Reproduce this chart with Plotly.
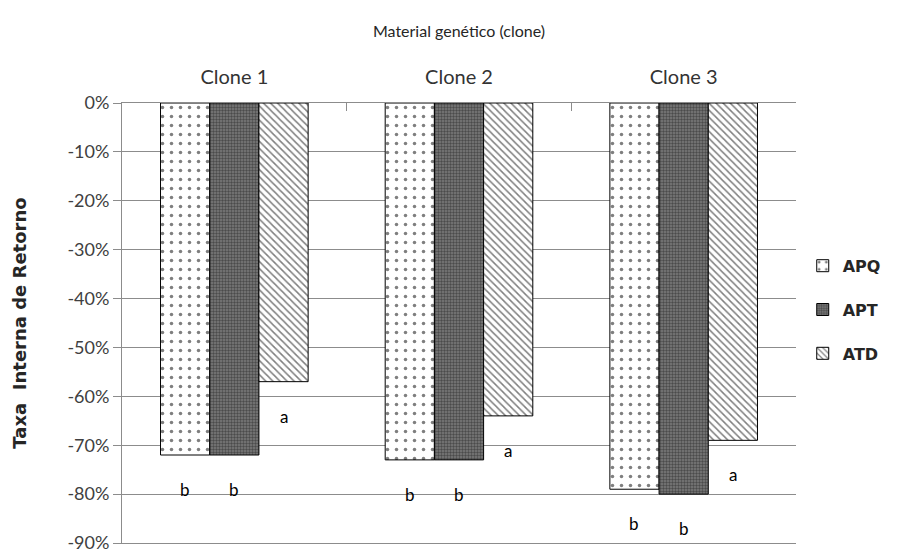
import plotly.graph_objects as go

categories = ["Clone 1", "Clone 2", "Clone 3"]
series_names = ["APQ", "APT", "ATD"]
apq = [-0.72, -0.73, -0.79]
apt = [-0.72, -0.73, -0.80]
atd = [-0.57, -0.64, -0.69]
letters_apq = ["b", "b", "b"]
letters_apt = ["b", "b", "b"]
letters_atd = ["a", "a", "a"]
ytick_vals = [0, -0.1, -0.2, -0.3, -0.4, -0.5, -0.6, -0.7, -0.8, -0.9]
ytick_text = ["0%", "-10%", "-20%", "-30%", "-40%", "-50%", "-60%", "-70%", "-80%", "-90%"]

FONT = "Lato, 'Open Sans', Arial, sans-serif"
GRID = "#8c8c8c"

patterns = [
    dict(shape=".", fgcolor="black", bgcolor="white", size=9, solidity=0.12, fillmode="overlay"),
    dict(shape=".", fgcolor="#1a1a1a", bgcolor="#7c7c7c", size=3, solidity=0.5, fillmode="overlay"),
    dict(shape="\\", fgcolor="black", bgcolor="white", size=5, solidity=0.3, fillmode="overlay"),
]
colors = ["white", "#7c7c7c", "white"]

fig = go.Figure()
for name, vals, pat, col in zip(series_names, [apq, apt, atd], patterns, colors):
    fig.add_trace(go.Bar(
        x=categories, y=vals, name=name, legendgroup=name,
        marker=dict(color=col, pattern=pat, line=dict(color="black", width=1)),
    ))

# page body adds an 8px offset, so the figure is sized to fill the rest of the window
W, H = 904, 543
left, right, top, bottom = 114, 116, 95, 8
bargap = 0.343
cat_px = (W - left - right) / len(categories)
bar_px = cat_px * (1 - bargap) / len(series_names)

annotations = []
for i, (vals, letters) in enumerate(zip([apq, apt, atd], [letters_apq, letters_apt, letters_atd])):
    for cat, v, t in zip(categories, vals, letters):
        annotations.append(dict(
            x=cat, y=v, text=t, showarrow=False, xref="x", yref="y",
            xshift=(i - 1) * bar_px, yshift=-22, yanchor="top",
            font=dict(family=FONT, size=17, color="black"),
        ))

fig.update_layout(
    width=W, height=H,
    margin=dict(l=left, r=right, t=top, b=bottom, autoexpand=False),
    paper_bgcolor="white", plot_bgcolor="white",
    barmode="group", bargap=bargap, bargroupgap=0,
    font=dict(family=FONT, color="#404040"),
    showlegend=True,
    legend=dict(
        x=1.01, y=0.53, xanchor="left", yanchor="middle",
        font=dict(family="DejaVu Sans, sans-serif", size=16, color="#262626", weight="bold"),
        tracegroupgap=20, itemwidth=30, bgcolor="rgba(0,0,0,0)",
    ),
    annotations=annotations,
)
fig.update_xaxes(
    side="top", showline=True, mirror=True, linecolor=GRID, linewidth=1, automargin=False,
    ticks="inside", tickson="boundaries", ticklen=8, tickcolor=GRID,
    ticklabelstandoff=10,
    showgrid=False,
    tickfont=dict(family=FONT, size=20, color="#333333"),
    title=dict(text="Material genético (clone)", standoff=22,
               font=dict(family=FONT, size=16, color="#262626")),
)
fig.update_yaxes(
    range=[-0.9, 0], tickvals=ytick_vals, ticktext=ytick_text, automargin=False,
    ticklabeloverflow="allow",
    showline=True, linecolor=GRID, linewidth=1,
    ticks="outside", ticklen=8, tickcolor=GRID,
    showgrid=True, gridcolor=GRID, gridwidth=1, zeroline=False,
    tickfont=dict(family=FONT, size=18, color="#404040"),
    title=dict(text="Taxa  Interna de Retorno", standoff=36,
               font=dict(family="DejaVu Sans, sans-serif", size=18, color="#262626", weight="bold")),
)

fig.write_html("out.html")
